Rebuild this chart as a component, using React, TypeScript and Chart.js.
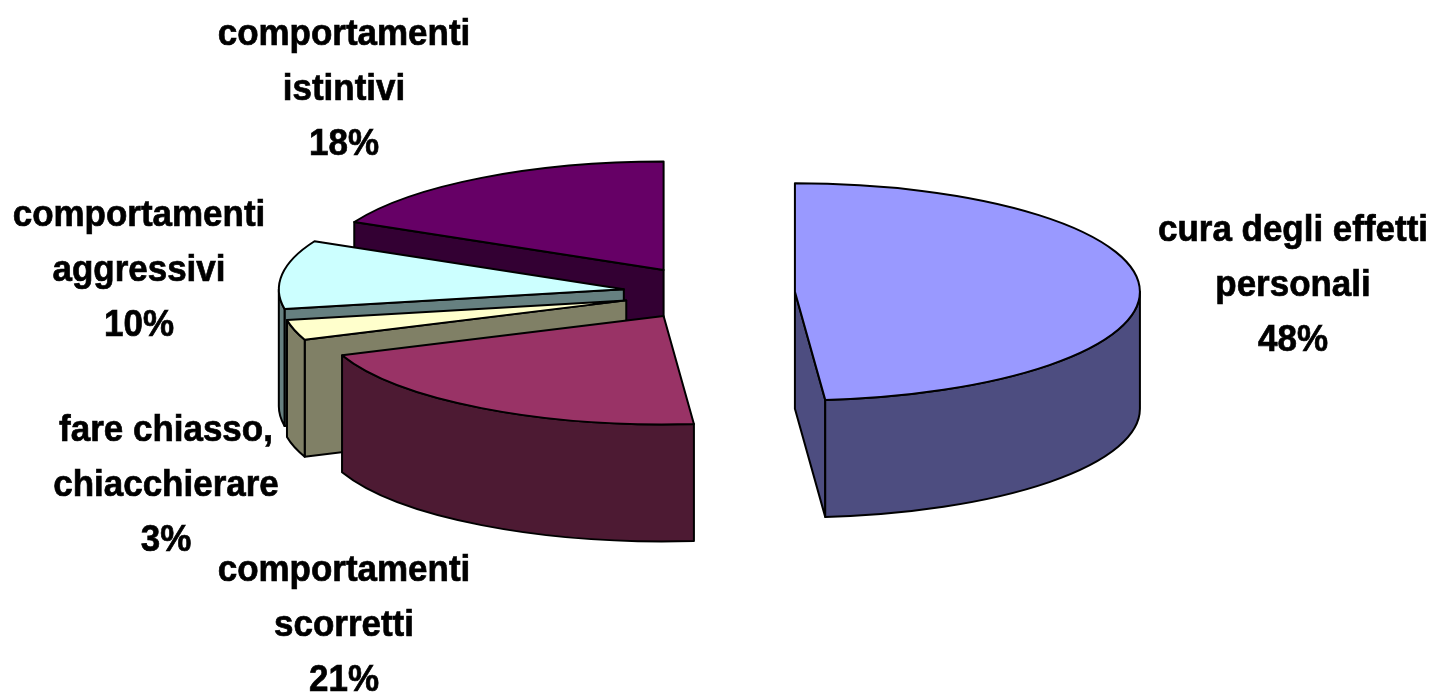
import React, { useEffect, useRef } from "react";
import { Chart, registerables } from "chart.js";

Chart.register(...registerables);

const categories = [
  "cura degli effetti personali",
  "comportamenti scorretti",
  "fare chiasso, chiacchierare",
  "comportamenti aggressivi",
  "comportamenti istintivi",
];
const values = [48.6, 20.5, 3.0, 10.2, 17.7];
const percentLabels = ["48%", "21%", "3%", "10%", "18%"];
const labelLines = [
  ["cura degli effetti", "personali"],
  ["comportamenti", "scorretti"],
  ["fare chiasso,", "chiacchierare"],
  ["comportamenti", "aggressivi"],
  ["comportamenti", "istintivi"],
];
const topColors = ["#9999FF", "#993366", "#FFFFCC", "#CCFFFF", "#660066"];
const wallColors = ["#4D4D80", "#4D1A33", "#808066", "#668080", "#330033"];
const paintOrder = [4, 3, 2, 1, 0];
const labelCentres = [1293, 344, 166, 139, 344];
const labelBaselines = [241, 581, 441, 226, 45];

const CX = 709, CY = 293, RX = 345, RY = 108.5, DEPTH = 117, EXPLODE = 86;
const LINE = 55, FONT = 37, XSCALE = 0.945;

const pie3d = {
  id: "pie3d",
  beforeDatasetDraw(chart: any) {
    const ctx: CanvasRenderingContext2D = chart.ctx;
    const arcs = chart.getDatasetMeta(0).data;
    ctx.save();
    ctx.lineWidth = 2;
    ctx.strokeStyle = "#000";
    ctx.lineJoin = "round";
    for (const i of paintOrder) {
      const arc = arcs[i];
      const s = arc.startAngle, e = arc.endAngle;
      const h = (s + e) / 2;
      const cx = CX + Math.cos(h) * EXPLODE;
      const cy = CY + (Math.sin(h) * EXPLODE * RY) / RX;
      const rim = (a: number, z = 0): [number, number] => [
        cx + Math.cos(a) * RX,
        cy + Math.sin(a) * RY + z,
      ];
      const radial = (a: number) => {
        const p = rim(a), q = rim(a, DEPTH);
        ctx.beginPath();
        ctx.moveTo(cx, cy);
        ctx.lineTo(p[0], p[1]);
        ctx.lineTo(q[0], q[1]);
        ctx.lineTo(cx, cy + DEPTH);
        ctx.closePath();
        ctx.fillStyle = wallColors[i];
        ctx.fill();
        ctx.stroke();
      };
      if (Math.cos(s) < -1e-6) radial(s);
      if (Math.cos(e) > 1e-6) radial(e);
      const f0 = Math.max(s, 0), f1 = Math.min(e, Math.PI);
      if (f1 > f0) {
        ctx.beginPath();
        ctx.ellipse(cx, cy, RX, RY, 0, f0, f1);
        ctx.ellipse(cx, cy + DEPTH, RX, RY, 0, f1, f0, true);
        ctx.closePath();
        ctx.fillStyle = wallColors[i];
        ctx.fill();
        ctx.stroke();
      }
      ctx.save();
      ctx.translate(cx, cy);
      ctx.scale(RX / arc.outerRadius, RY / arc.outerRadius);
      ctx.translate(-arc.x, -arc.y);
      arc.draw(ctx, chart.chartArea);
      ctx.restore();
      ctx.beginPath();
      ctx.moveTo(cx, cy);
      ctx.ellipse(cx, cy, RX, RY, 0, s, e);
      ctx.closePath();
      ctx.stroke();
    }
    ctx.restore();
    return false;
  },
  afterDraw(chart: any) {
    const ctx: CanvasRenderingContext2D = chart.ctx;
    ctx.save();
    ctx.fillStyle = "#000";
    ctx.strokeStyle = "#000";
    ctx.lineWidth = 0.7;
    ctx.font = `bold ${FONT}px "Liberation Sans", Arial, sans-serif`;
    ctx.textAlign = "center";
    ctx.textBaseline = "alphabetic";
    labelLines.forEach((lines, i) => {
      const rows = [...lines, percentLabels[i]];
      rows.forEach((text, r) => {
        ctx.save();
        ctx.translate(labelCentres[i], labelBaselines[i] + r * LINE);
        ctx.scale(XSCALE, 1);
        ctx.fillText(text, 0, 0);
        ctx.strokeText(text, 0, 0);
        ctx.restore();
      });
    });
    ctx.restore();
  },
};

export default function App() {
  const ref = useRef<HTMLCanvasElement>(null);
  useEffect(() => {
    const chart = new Chart(ref.current as HTMLCanvasElement, {
      type: "pie",
      data: {
        labels: categories,
        datasets: [
          {
            data: values,
            backgroundColor: topColors,
            borderWidth: 0,
          },
        ],
      },
      options: {
        responsive: false,
        animation: false,
        devicePixelRatio: 1,
        layout: { padding: 0 },
        plugins: { legend: { display: false }, tooltip: { enabled: false } },
      },
      plugins: [pie3d],
    } as any);
    return () => chart.destroy();
  }, []);
  return (
    <div style={{ position: "fixed", left: 0, top: 0, width: 1433, height: 693, background: "#fff" }}>
      <canvas ref={ref} width={1433} height={693} style={{ display: "block" }} />
    </div>
  );
}
